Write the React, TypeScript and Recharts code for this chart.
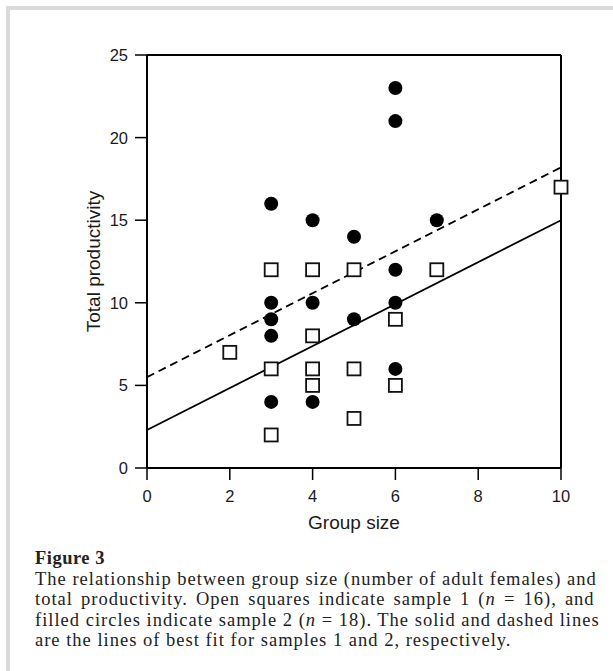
import {
  ComposedChart,
  Line,
  ReferenceLine,
  Scatter,
  XAxis,
  YAxis,
} from "recharts";

// sample 1 (open squares)
const sample1 = [
  { x: 2, y: 7 },
  { x: 3, y: 12 },
  { x: 3, y: 6 },
  { x: 3, y: 2 },
  { x: 4, y: 12 },
  { x: 4, y: 8 },
  { x: 4, y: 6 },
  { x: 4, y: 5 },
  { x: 5, y: 12 },
  { x: 5, y: 6 },
  { x: 5, y: 3 },
  { x: 6, y: 9 },
  { x: 6, y: 5 },
  { x: 7, y: 12 },
  { x: 10, y: 17 },
];

// sample 2 (filled circles)
const sample2 = [
  { x: 3, y: 16 },
  { x: 3, y: 10 },
  { x: 3, y: 9 },
  { x: 3, y: 8 },
  { x: 3, y: 4 },
  { x: 4, y: 15 },
  { x: 4, y: 10 },
  { x: 4, y: 4 },
  { x: 5, y: 14 },
  { x: 5, y: 9 },
  { x: 6, y: 23 },
  { x: 6, y: 21 },
  { x: 6, y: 12 },
  { x: 6, y: 10 },
  { x: 6, y: 6 },
  { x: 7, y: 15 },
];

// lines of best fit
const fit1 = [
  { x: 0, y: 2.3 },
  { x: 10, y: 15 },
];
const fit2 = [
  { x: 0, y: 5.5 },
  { x: 10, y: 18.2 },
];

const xTicks = [0, 2, 4, 6, 8, 10];
const yTicks = [0, 5, 10, 15, 20, 25];

const captionTitle = "Figure 3";

const sansFont = '"Liberation Sans", Arial, sans-serif';
const serifFont = '"Liberation Serif", "Times New Roman", serif';

function XTick(props: any) {
  const { x, y, payload } = props;
  return (
    <text x={x} y={y + 13} textAnchor="middle" fill="#1a1a1a" fontSize={16.5} fontFamily={sansFont}>
      {payload.value}
    </text>
  );
}

function YTick(props: any) {
  const { x, y, payload } = props;
  return (
    <text x={x} y={y} dy={6} textAnchor="end" fill="#1a1a1a" fontSize={16.5} fontFamily={sansFont}>
      {payload.value}
    </text>
  );
}

function Square(props: any) {
  const { cx, cy } = props;
  return <rect x={cx - 6.5} y={cy - 6.5} width={13} height={13} fill="#fff" stroke="#111" strokeWidth={1.8} />;
}

function Dot(props: any) {
  const { cx, cy } = props;
  return <circle cx={cx} cy={cy} r={7} fill="#000" />;
}

function YTitle(props: any) {
  const vb = props.viewBox;
  const x = vb.x + 6;
  const y = vb.y + vb.height / 2;
  return (
    <text
      x={x}
      y={y}
      transform={`rotate(-90 ${x} ${y})`}
      textAnchor="middle"
      dominantBaseline="central"
      fill="#1a1a1a"
      fontSize={19}
      fontFamily={sansFont}
    >
      Total productivity
    </text>
  );
}

function XTitle(props: any) {
  const vb = props.viewBox;
  return (
    <text
      x={vb.x + vb.width / 2}
      y={vb.y + 61}
      textAnchor="middle"
      fill="#1a1a1a"
      fontSize={19}
      fontFamily={sansFont}
    >
      Group size
    </text>
  );
}

export default function App() {
  return (
    <div style={{ position: "absolute", left: 0, top: 0, width: 613, height: 671, background: "#fff" }}>
      <div
        style={{
          position: "absolute",
          left: 6,
          top: 6,
          width: 607,
          height: 665,
          borderTop: "4px solid #dadada",
          borderLeft: "4px solid #dadada",
          boxSizing: "border-box",
        }}
      />
      <div style={{ position: "absolute", left: 0, top: 0 }}>
        <ComposedChart width={613} height={540} margin={{ top: 55, right: 52, bottom: 32, left: 87 }}>
          <XAxis
            type="number"
            dataKey="x"
            domain={[0, 10]}
            ticks={xTicks}
            height={40}
            tickSize={12}
            tickMargin={9}
            tick={<XTick />}
            axisLine={{ stroke: "#000", strokeWidth: 2 }}
            tickLine={{ stroke: "#000", strokeWidth: 1.5 }}
            label={<XTitle />}
          />
          <YAxis
            type="number"
            dataKey="y"
            domain={[0, 25]}
            ticks={yTicks}
            width={60}
            tickSize={12}
            tickMargin={7}
            tick={<YTick />}
            axisLine={{ stroke: "#000", strokeWidth: 2 }}
            tickLine={{ stroke: "#000", strokeWidth: 1.5 }}
            label={<YTitle />}
          />
          <ReferenceLine y={25} stroke="#000" strokeWidth={2} />
          <ReferenceLine x={10} stroke="#000" strokeWidth={2} />
          <Line
            data={fit1}
            dataKey="y"
            type="linear"
            stroke="#000"
            strokeWidth={1.8}
            dot={false}
            activeDot={false}
            isAnimationActive={false}
          />
          <Line
            data={fit2}
            dataKey="y"
            type="linear"
            stroke="#000"
            strokeWidth={1.8}
            strokeDasharray="8 5"
            dot={false}
            activeDot={false}
            isAnimationActive={false}
          />
          <Scatter data={sample1} shape={<Square />} isAnimationActive={false} />
          <Scatter data={sample2} shape={<Dot />} isAnimationActive={false} />
        </ComposedChart>
      </div>
      <div
        style={{
          position: "absolute",
          left: 35,
          top: 548,
          width: 575,
          fontFamily: serifFont,
          fontSize: 18.5,
          lineHeight: "20.5px",
          letterSpacing: 1,
          color: "#222",
          whiteSpace: "nowrap",
        }}
      >
        <div style={{ fontWeight: "bold", letterSpacing: 0.5 }}>{captionTitle}</div>
        <div>The relationship between group size (number of adult females) and</div>
        <div style={{ wordSpacing: 2.5 }}>
          total productivity. Open squares indicate sample 1 (<i>n</i> = 16), and
        </div>
        <div>
          filled circles indicate sample 2 (<i>n</i> = 18). The solid and dashed lines
        </div>
        <div>are the lines of best fit for samples 1 and 2, respectively.</div>
      </div>
    </div>
  );
}
